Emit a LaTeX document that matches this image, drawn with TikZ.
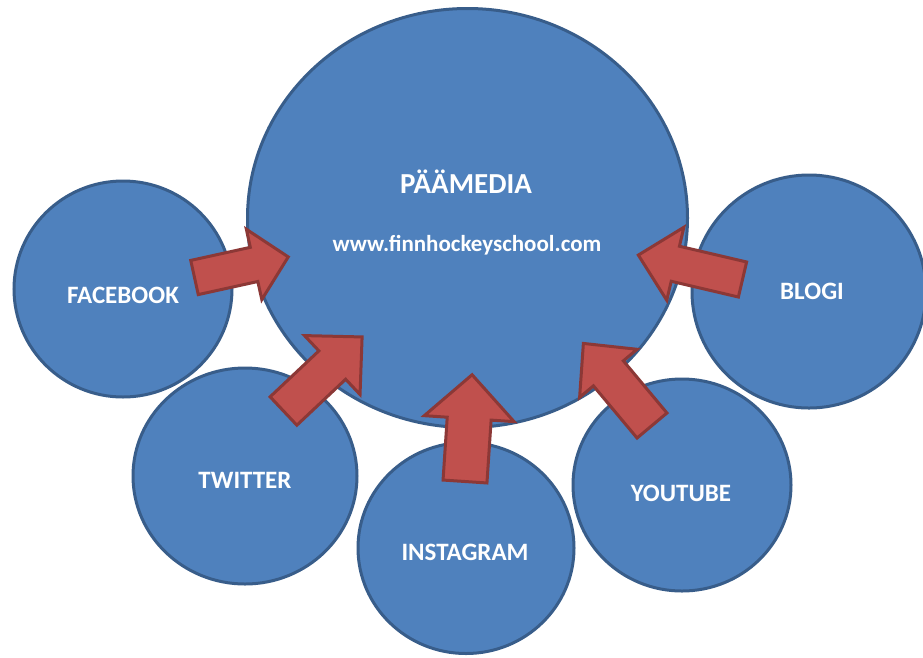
\documentclass[tikz,border=0pt]{standalone}
\usepackage{fontspec}
\setmainfont{Carlito}
\usetikzlibrary{shapes.geometric}

\definecolor{bubblefill}{HTML}{4F81BD}
\definecolor{bubbleedge}{HTML}{385D8A}
\definecolor{pushfill}{HTML}{C0504D}
\definecolor{pushedge}{HTML}{8C3836}

% block arrow: tail x, tail y, angle, length, shaft width, head width, head length
\newcommand{\feedarrow}[7]{%
  \begin{scope}[shift={(#1,#2)},rotate=#3]
    \draw[pusharrow] (0,{-#5/2}) -- ({#4-#7},{-#5/2}) -- ({#4-#7},{-#6/2}) -- (#4,0)
      -- ({#4-#7},{#6/2}) -- ({#4-#7},{#5/2}) -- (0,{#5/2}) -- cycle;
  \end{scope}}

\begin{document}
\begin{tikzpicture}[x=1pt,y=-1pt,
  bubble/.style={ellipse,draw=bubbleedge,fill=bubblefill,line width=3pt,inner sep=0pt},
  pusharrow/.style={draw=pushedge,fill=pushfill,line width=3pt,line join=miter},
  lbl/.style={anchor=base,text=white,font=\bfseries\fontsize{25}{30}\selectfont}]
\fill[white] (0,0) rectangle (923,657);
\useasboundingbox (0,0) rectangle (923,657);

% main site and the channels around it
\node[bubble,minimum width=440pt,minimum height=419pt] (main) at (467.5,218) {};
\node[bubble,minimum width=218pt,minimum height=216pt] (facebook) at (123,289) {};
\node[bubble,minimum width=224pt,minimum height=216pt] (twitter) at (245,476) {};
\node[bubble,minimum width=216pt,minimum height=211pt] (instagram) at (466,548) {};
\node[bubble,minimum width=218pt,minimum height=212pt] (youtube) at (682,485) {};
\node[bubble,minimum width=234pt,minimum height=233pt] (blogi) at (809,291.5) {};

\node[lbl,font=\bfseries\fontsize{29}{34}\selectfont] (maintitle) at (466,193) {PÄÄMEDIA};
\node[lbl,font=\bfseries\fontsize{23}{28}\selectfont] (mainurl) at (467,251) {www.finnhockeyschool.com};
\node[lbl] (facebooktext) at (123,303) {FACEBOOK};
\node[lbl] (twittertext) at (245,488) {TWITTER};
\node[lbl] (instagramtext) at (465,560) {INSTAGRAM};
\node[lbl] (youtubetext) at (681,501) {YOUTUBE};
\node[lbl] (blogitext) at (812,299) {BLOGI};

% arrows into the main site
\feedarrow{194.5}{277.5}{12.4}{96}{35}{72}{35}
\feedarrow{283.5}{411}{43.3}{108}{39}{81}{41}
\feedarrow{465}{481.5}{86.2}{107}{44}{90}{44}
\feedarrow{652}{425.5}{129.9}{107}{39}{75}{39}
\feedarrow{742.5}{279.5}{166.8}{107}{36}{75}{38}
\end{tikzpicture}
\end{document}
